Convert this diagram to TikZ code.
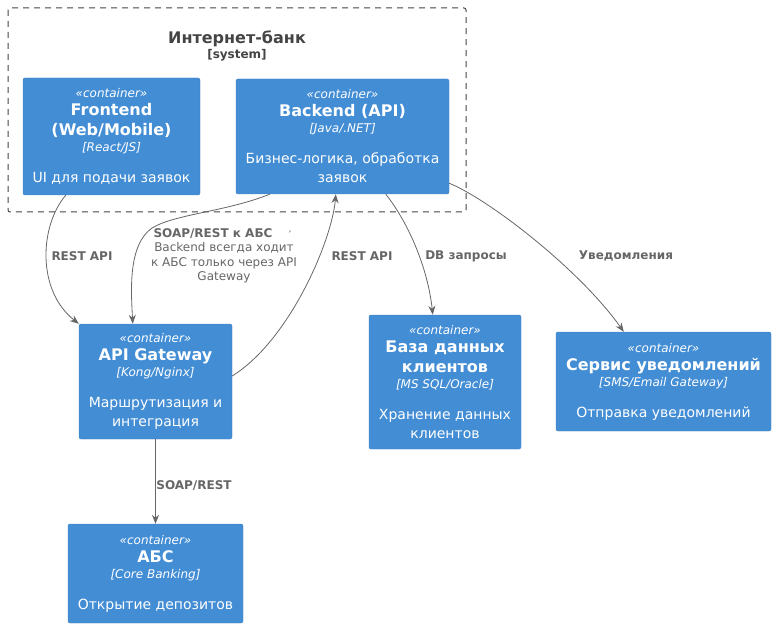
\documentclass[tikz,border=0pt]{standalone}
\usepackage{fontspec}
\setmainfont{DejaVu Sans}
\usetikzlibrary{arrows.meta,calc}
\definecolor{boxfill}{HTML}{438DD5}
\definecolor{boxline}{HTML}{3C7FC0}
\definecolor{edgecol}{HTML}{666666}
\definecolor{titlecol}{HTML}{444444}
\newcommand\cst{\fontsize{12}{15}\selectfont\itshape}
\newcommand\cnm{\fontsize{16}{19}\selectfont\bfseries}
\newcommand\ctc{\fontsize{12}{15}\selectfont\itshape}
\newcommand\cds{\fontsize{14}{18}\selectfont}
\tikzset{
  cbox/.style={draw=boxline, fill=boxfill, rounded corners=2pt, text=white, align=center, inner sep=0pt, font=\fontsize{12}{16}\selectfont},
  sysbox/.style={draw=titlecol, dash pattern=on 6pt off 5pt, rounded corners=2pt, line width=1pt},
  conn/.style={draw=edgecol, line width=0.8pt, -{Stealth[length=9pt,width=7pt]}},
  elab/.style={text=edgecol, font=\fontsize{12}{14}\selectfont\bfseries},
  enote/.style={text=edgecol, font=\fontsize{12}{14.5}\selectfont, align=center},
}
\begin{document}
\begin{tikzpicture}[x=1pt,y=-1pt]
\useasboundingbox (0,0) rectangle (776,628);
% system boundary
\draw[sysbox] (8,8) rectangle (466,212);
\node[text=titlecol, font=\fontsize{16}{19}\selectfont\bfseries] (systitle) at (237,39) {Интернет-банк};
\node[text=titlecol, font=\fontsize{12}{14}\selectfont\bfseries] (syssub) at (237,55) {[system]};
% containers
\node[cbox, minimum width=177pt, minimum height=117pt] (fe) at (111.5,136.5)
 {\cst «container»\\[2pt] \cnm Frontend\\[4pt] \cnm (Web/Mobile)\\ \ctc [React/JS]\\[15pt] \cds UI для подачи заявок};
\node[cbox, minimum width=213pt, minimum height=115pt] (be) at (342.5,136.5)
 {\cst «container»\\[2pt] \cnm Backend (API)\\ \ctc [Java/.NET]\\[15pt] \cds Бизнес-логика, обработка\\[3pt] \cds заявок};
\node[cbox, minimum width=153pt, minimum height=115pt] (gw) at (155.5,381.5)
 {\cst «container»\\[2pt] \cnm API Gateway\\ \ctc [Kong/Nginx]\\[15pt] \cds Маршрутизация и\\[3pt] \cds интеграция};
\node[cbox, minimum width=152pt, minimum height=134pt] (db) at (445,382)
 {\cst «container»\\[2pt] \cnm База данных\\[4pt] \cnm клиентов\\ \ctc [MS SQL/Oracle]\\[15pt] \cds Хранение данных\\[3pt] \cds клиентов};
\node[cbox, minimum width=215pt, minimum height=99pt] (ns) at (663.5,381.5)
 {\cst «container»\\[2pt] \cnm Сервис уведомлений\\ \ctc [SMS/Email Gateway]\\[15pt] \cds Отправка уведомлений};
\node[cbox, minimum width=175pt, minimum height=99pt] (abs) at (155.5,573.5)
 {\cst «container»\\[2pt] \cnm АБС\\ \ctc [Core Banking]\\[15pt] \cds Открытие депозитов};
% connectors
\draw[conn] ([xshift=43pt]fe.south west) .. controls (40,225) and (36,290) .. (gw.north west);
\node[elab] (l1) at (82,256) {REST API};
\draw[conn] ([xshift=34pt]be.south west) .. controls (225,212) and (175,214) .. (152,228) .. controls (128,245) and (131,290) .. ([xshift=54pt]gw.north west);
\node[elab] (l2) at (213,234) {SOAP/REST к АБС};
\node[enote] (n2) at (224,263) {Backend всегда ходит\\к АБС только через API\\Gateway};
\node[text=edgecol, font=\fontsize{9}{10}\selectfont] (tick) at (290,234) {'};
\draw[conn] ([yshift=5.5pt]gw.east) .. controls (290,340) and (332,240) .. ([xshift=100pt]be.south west);
\node[elab] (l3) at (362,256) {REST API};
\draw[conn] ([xshift=150pt]be.south west) .. controls (410,225) and (428,270) .. ([xshift=64pt]db.north west);
\node[elab] (l4) at (466,256) {DB запросы};
\draw[conn] ([yshift=11pt]be.south east) .. controls (490,200) and (580,270) .. ([xshift=68pt]ns.north west);
\node[elab] (l5) at (626,256) {Уведомления};
\draw[conn] (gw.south) -- (abs.north);
\node[elab] (l6) at (194,486) {SOAP/REST};
\end{tikzpicture}
\end{document}
